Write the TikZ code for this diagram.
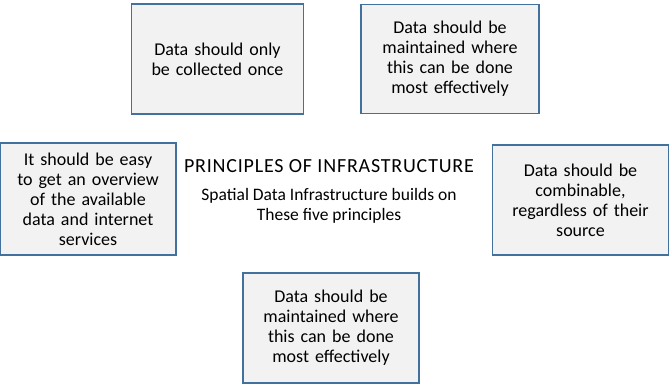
\documentclass[tikz,border=0pt]{standalone}
\usepackage{fontspec}
\setmainfont{Carlito}
\newfontfamily\headfont[LetterSpace=4]{Carlito}
\usepackage{xcolor}
\definecolor{boxline}{HTML}{41719C}
\definecolor{boxfill}{HTML}{F2F2F2}
\usetikzlibrary{positioning}

\begin{document}
\begin{tikzpicture}[x=1pt, y=-1pt,
    principle/.style={draw=boxline, line width=1.6pt, fill=boxfill, align=center,
        inner sep=4pt, font=\fontsize{18}{20}\selectfont},
    title/.style={align=center, font=\headfont\fontsize{20}{20}\selectfont},
    subtitle/.style={align=center, font=\fontsize{17.5}{20}\selectfont}]
    \useasboundingbox (0,0) rectangle (669,385);
    % the five principles
    \node[principle, minimum width=170pt, minimum height=110pt, text width=164pt] (once) at (217.5,59) {Data should only\\be collected once};
    \node[principle, minimum width=176pt, minimum height=109pt, text width=170pt] (maintain) at (450,59) {Data should be\\maintained where\\this can be done\\most effectively};
    \node[principle, minimum width=170pt, minimum height=112pt, text width=168pt] (overview) at (88,199) {It should be easy\\to get an overview\\of the available\\data and internet\\services};
    \node[principle, minimum width=173pt, minimum height=110pt, text width=168pt] (combine) at (580.5,200) {Data should be\\combinable,\\regardless of their\\source};
    \node[principle, minimum width=174pt, minimum height=110pt, text width=168pt] (effective) at (331,328) {Data should be\\maintained where\\this can be done\\most effectively};
    % heading in the middle
    \node[title] (head) at (329,166) {PRINCIPLES OF INFRASTRUCTURE};
    \node[subtitle, below=9pt of head] (sub) {Spatial Data Infrastructure builds on\\These five principles};
\end{tikzpicture}
\end{document}
